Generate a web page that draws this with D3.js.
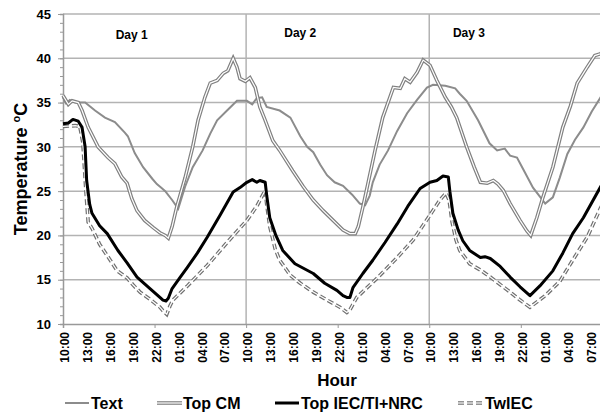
<!DOCTYPE html>
<html>
<head>
<meta charset="utf-8">
<script src="https://cdn.jsdelivr.net/npm/d3@7"></script>
<style>
  body { margin: 0; background: #fff; }
  text { font-family: "Liberation Sans", Arial, sans-serif; font-weight: bold; fill: #000; }
</style>
</head>
<body>
<svg id="chart"></svg>
<script>
// hours counted from 10:00 on day 1
const tickLabels = ["10:00", "13:00", "16:00", "19:00", "22:00", "01:00", "04:00", "07:00"];
const dayNames = ["Day 1", "Day 2", "Day 3"];
const seriesNames = ["Text", "Top CM", "Top IEC/TI+NRC", "TwIEC"];

const textHours = [0,0.4,0.9,1.6,2.9,4.2,5.5,6.8,8.1,8.5,9.4,10.5,11.7,12.3,13.0,13.4,14.3,15.1,16.0,17.0,18.3,19.3,20.2,21.5,22.8,24.1,24.8,25.4,26.1,26.7,28.4,29.8,31.1,32.0,32.8,33.7,34.6,35.6,36.7,37.9,38.9,39.6,40.2,40.6,41.5,42.6,43.8,45.1,46.4,47.7,48.5,50.1,51.4,52.0,52.9,54.4,55.9,56.9,57.9,58.6,59.5,60.3,61.6,63.2,64.2,65.1,66.1,67.1,68.2,69.3,70.4,71.0];
const textTemp = [35.6,34.9,35.3,35.0,35.0,34.1,33.3,32.8,31.6,31.2,29.3,27.7,26.4,25.8,25.3,25.0,24.0,23.0,25.5,27.7,29.6,31.5,33.0,34.1,35.2,35.2,34.8,35.5,35.6,34.5,34.1,33.3,31.2,30.0,29.4,28.0,26.8,26.0,25.6,24.6,23.6,23.4,24.5,26.0,28.0,29.6,31.8,33.8,35.3,36.7,37.0,36.9,36.6,36.0,35.2,33.0,30.4,29.6,29.8,29.0,28.8,27.5,25.4,23.6,24.3,26.5,29.2,30.8,32.2,34.0,35.5,36.5];

const cmHours = [0,0.7,1.2,2.0,2.5,3.3,4.6,5.9,6.8,7.7,8.4,9.0,9.7,10.7,11.8,12.7,13.4,13.8,14.3,14.9,16.0,17.0,17.7,18.6,19.3,20.2,21.0,21.6,22.3,22.8,23.2,23.9,24.5,25.2,25.8,26.5,27.5,28.4,30.1,31.5,32.8,34.1,35.4,36.7,37.6,38.3,38.7,39.3,40.0,40.9,41.9,43.3,44.2,44.8,45.5,46.4,47.2,48.1,49.0,50.1,50.9,51.6,52.9,53.9,54.7,55.6,56.4,57.0,57.7,58.6,59.9,60.8,61.3,62.1,62.9,64.2,65.5,66.5,67.4,68.7,69.7,70.4,71.0];
const cmTemp = [35.8,34.8,35.2,35.0,34.1,32.2,30.0,28.8,28.1,26.6,25.9,24.2,22.8,21.7,20.9,20.3,20.0,19.7,21.0,23.2,26.5,30.0,33.0,35.6,37.2,37.5,38.3,38.6,40.0,39.0,37.7,37.4,37.8,36.7,34.5,33.0,30.7,29.6,27.3,25.5,24.0,22.8,21.7,20.6,20.2,20.2,21.0,23.2,26.0,29.6,33.3,36.7,36.6,37.7,37.3,38.4,39.8,39.2,37.5,35.6,34.5,33.3,30.0,27.7,26.0,25.9,26.2,25.8,25.1,23.6,21.7,20.5,20.0,22.0,24.3,27.7,32.2,34.6,37.2,39.0,40.3,40.5,40.8];

const iecHours = [0,0.7,1.3,2.0,2.5,2.9,3.1,3.5,3.8,4.8,5.8,7.2,8.4,9.7,11.4,12.7,13.1,13.5,13.8,14.3,15.3,16.3,17.6,18.9,20.6,22.3,23.2,24.1,24.8,25.4,25.8,26.5,26.7,27.1,27.9,28.8,30.4,32.8,34.3,35.9,36.7,37.2,37.6,38.0,39.3,40.6,42.2,43.8,45.2,46.8,48.1,49.0,49.8,50.5,50.7,51.1,51.8,52.4,53.3,54.7,55.3,56.0,57.3,58.6,59.9,61.2,62.5,64.2,65.5,66.8,68.2,70.4,71.0];
const iecTemp = [32.6,32.7,33.1,32.9,32.2,30.0,26.2,23.5,22.5,21.1,20.2,18.3,16.9,15.3,14.0,13.0,12.7,12.6,12.9,14.0,15.2,16.4,18.0,19.8,22.3,24.9,25.4,26.0,26.3,26.0,26.2,26.0,24.5,22.0,20.0,18.3,16.8,15.7,14.6,13.8,13.2,13.0,13.0,14.1,15.7,17.2,19.2,21.3,23.3,25.3,26.0,26.2,26.7,26.6,25.0,22.5,20.6,19.4,18.3,17.5,17.6,17.4,16.5,15.3,14.2,13.2,14.3,16.0,18.0,20.2,22.0,25.4,26.3];

const twHours = [0,1.6,2.2,2.6,3.0,3.3,3.8,4.8,6.2,7.1,8.4,9.2,10.1,11.4,12.7,13.1,13.6,14.0,14.4,16.3,18.9,21.5,24.1,25.4,26.5,26.7,27.1,27.8,28.4,29.8,31.1,32.8,34.6,36.3,37.2,37.6,38.5,41.2,43.8,45.9,48.1,49.4,50.2,50.6,51.0,51.5,52.0,53.3,54.7,56.0,58.6,59.9,61.2,63.2,65.1,66.8,68.7,70.4,71.0];
const twTemp = [32.3,32.4,32.3,30.5,25.0,21.5,20.8,19.0,17.2,16.0,15.2,14.4,13.6,12.8,11.9,11.5,11.1,12.0,12.7,14.3,16.6,19.2,21.7,23.3,25.1,23.5,21.0,18.5,17.2,15.5,14.6,13.6,12.7,11.9,11.3,11.6,13.0,15.2,17.5,19.5,22.3,24.0,24.8,24.0,21.5,19.5,18.3,16.8,16.1,15.3,13.6,12.7,11.9,13.2,14.8,17.2,19.8,23.0,24.0];

const width = 600;
const height = 415;
const margin = { top: 14, left: 63, bottom: 91 };
const plotBottom = height - margin.bottom;

const svg = d3.select("#chart")
    .attr("width", width)
    .attr("height", height);

const xScale = d3.scaleLinear()
    .domain([0, 72])
    .range([margin.left, margin.left + 72 * 7.63]);

const yScale = d3.scaleLinear()
    .domain([10, 45])
    .range([plotBottom, margin.top]);

const gridColor = "#b3b3b3";

// horizontal grid
svg.append("g")
    .selectAll("line")
    .data(d3.range(15, 46, 5))
    .join("line")
    .attr("x1", margin.left)
    .attr("x2", width)
    .attr("y1", d => yScale(d))
    .attr("y2", d => yScale(d))
    .attr("stroke", gridColor)
    .attr("stroke-width", 1.5);

// vertical grid at each new day
svg.append("g")
    .selectAll("line")
    .data([24, 48])
    .join("line")
    .attr("x1", d => xScale(d))
    .attr("x2", d => xScale(d))
    .attr("y1", margin.top)
    .attr("y2", plotBottom)
    .attr("stroke", gridColor)
    .attr("stroke-width", 1.5);

// y axis with minor ticks
const yAxis = svg.append("g")
    .attr("transform", `translate(${margin.left},0)`)
    .call(d3.axisLeft(yScale).tickValues(d3.range(10, 46, 1)).tickSize(3).tickFormat(""));
yAxis.selectAll("line").attr("stroke", "#999");
yAxis.select(".domain").attr("stroke", "#999").attr("stroke-width", 1.5);

const yMajor = svg.append("g")
    .attr("transform", `translate(${margin.left},0)`)
    .call(d3.axisLeft(yScale).tickValues(d3.range(10, 46, 5)).tickSize(5).tickPadding(7));
yMajor.select(".domain").remove();
yMajor.selectAll("line").attr("stroke", "#999");
yMajor.selectAll("text")
    .style("font-size", "13px")
    .style("font-weight", "bold")
    .style("font-family", "'Liberation Sans', Arial, sans-serif")
    .attr("fill", "#000");

// x axis: tick marks every 12 h, labels every 3 h
const xAxis = svg.append("g")
    .attr("transform", `translate(0,${plotBottom})`)
    .call(d3.axisBottom(xScale).tickValues(d3.range(0, 72, 12)).tickSize(4).tickFormat(""));
xAxis.selectAll("line").attr("stroke", "#999");
xAxis.select(".domain").attr("stroke", "#999").attr("stroke-width", 1.5);

svg.append("g")
    .selectAll("text")
    .data(d3.range(0, 72, 3))
    .join("text")
    .attr("transform", d => `translate(${xScale(d) + 2},${plotBottom + 8}) rotate(-90)`)
    .attr("text-anchor", "end")
    .attr("dy", "0.35em")
    .style("font-size", "12px")
    .text((d, i) => tickLabels[i % tickLabels.length]);

// day labels
const dayPos = [9.0, 31.1, 53.2];
svg.append("g")
    .selectAll("text")
    .data(dayNames)
    .join("text")
    .attr("x", (d, i) => xScale(dayPos[i]))
    .attr("y", (d, i) => i === 0 ? 39 : 37)
    .attr("text-anchor", "middle")
    .style("font-size", "12px")
    .text(d => d);

// axis titles
const yTitle = svg.append("text")
    .attr("transform", `translate(27,${(margin.top + plotBottom) / 2}) rotate(-90)`)
    .attr("text-anchor", "middle")
    .style("font-size", "18px");
yTitle.append("tspan").text("Temperature ");
yTitle.append("tspan").attr("dy", -7).style("font-size", "11px").text("o");
yTitle.append("tspan").attr("dy", 7).text("C");

svg.append("text")
    .attr("x", 337)
    .attr("y", 386)
    .attr("text-anchor", "middle")
    .style("font-size", "17px")
    .text("Hour");

// series
const line = d3.line()
    .x(d => xScale(d[0]))
    .y(d => yScale(d[1]));

const zipped = (hs, ts) => hs.map((h, i) => [h, ts[i]]);

const plot = svg.append("g");

plot.append("path")
    .attr("d", line(zipped(textHours, textTemp)))
    .attr("fill", "none")
    .attr("stroke", "#8c8c8c")
    .attr("stroke-width", 2);

const cmPath = line(zipped(cmHours, cmTemp));
plot.append("path")
    .attr("d", cmPath)
    .attr("fill", "none")
    .attr("stroke", "#808080")
    .attr("stroke-width", 3.6);
plot.append("path")
    .attr("d", cmPath)
    .attr("fill", "none")
    .attr("stroke", "#fff")
    .attr("stroke-width", 1.2);

const twPath = line(zipped(twHours, twTemp));
plot.append("path")
    .attr("d", twPath)
    .attr("fill", "none")
    .attr("stroke", "#707070")
    .attr("stroke-width", 3.6)
    .attr("stroke-dasharray", "6,3");
plot.append("path")
    .attr("d", twPath)
    .attr("fill", "none")
    .attr("stroke", "#fff")
    .attr("stroke-width", 1.2);

plot.append("path")
    .attr("d", line(zipped(iecHours, iecTemp)))
    .attr("fill", "none")
    .attr("stroke", "#000")
    .attr("stroke-width", 3)
    .attr("stroke-linejoin", "round");

// legend
const legendX = [65, 157, 275, 458];
const legendY = 403;
const legend = svg.append("g")
    .selectAll("g")
    .data(seriesNames)
    .join("g")
    .attr("transform", (d, i) => `translate(${legendX[i]},${legendY})`);

legend.each(function (d, i) {
    const g = d3.select(this);
    if (i === 0) {
        g.append("line").attr("x2", 24).attr("stroke", "#8c8c8c").attr("stroke-width", 2);
    } else if (i === 1) {
        g.append("line").attr("x2", 25).attr("stroke", "#808080").attr("stroke-width", 3.6);
        g.append("line").attr("x2", 25).attr("stroke", "#fff").attr("stroke-width", 1.2);
    } else if (i === 2) {
        g.append("line").attr("x2", 24).attr("stroke", "#000").attr("stroke-width", 3);
    } else {
        g.append("line").attr("x2", 24).attr("stroke", "#707070").attr("stroke-width", 3.6).attr("stroke-dasharray", "6,3");
        g.append("line").attr("x2", 24).attr("stroke", "#fff").attr("stroke-width", 1.2);
    }
    g.append("text")
        .attr("x", i === 3 ? 27 : 26)
        .attr("y", 6)
        .style("font-size", "16px")
        .text(d);
});
</script>
</body>
</html>
